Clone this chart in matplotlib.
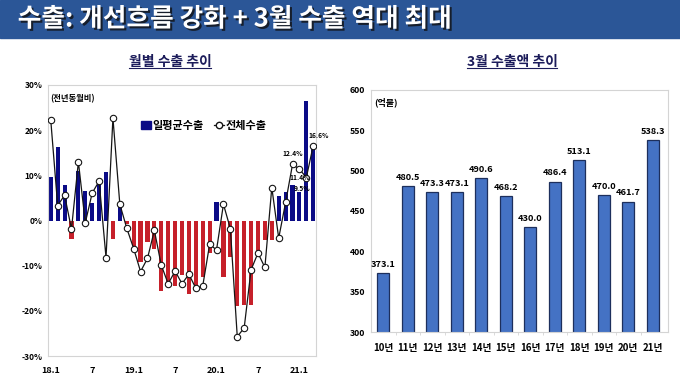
import matplotlib
matplotlib.use('Agg')
import matplotlib.pyplot as plt
import matplotlib.patheffects as pe
from matplotlib.patches import Rectangle, Patch
from matplotlib.lines import Line2D
import numpy as np

plt.rcParams['font.family'] = ['Noto Sans CJK KR', 'DejaVu Sans']
plt.rcParams['font.weight'] = 'bold'

# monthly export growth, 2018.1 ~ 2021.3 (전년동월비, %)
months = ['18.1', '', '', '', '', '', '7', '', '', '', '', '',
          '19.1', '', '', '', '', '', '7', '', '', '', '', '',
          '20.1', '', '', '', '', '', '7', '', '', '', '', '',
          '21.1', '', '']
daily_avg = [9.6, 16.3, 7.8, -4.1, 11.0, 6.6, 3.9, 8.0, 10.7, -4.1, 3.0, -0.8,
             -5.6, -9.1, -4.8, -6.3, -15.7, -13.9, -14.6, -12.0, -16.2, -14.2, -12.4, -7.3,
             4.1, -12.6, -8.0, -19.0, -18.7, -18.8, -6.7, -4.4, -4.4, 5.4, 6.3, 7.9,
             6.4, 26.5, 16.0]
total = [22.2, 3.3, 5.6, -1.9, 13.0, -0.5, 6.1, 8.7, -8.2, 22.7, 3.6, -1.7,
         -6.2, -11.3, -8.4, -2.2, -9.9, -14.0, -11.2, -14.0, -11.9, -15.0, -14.5, -5.3,
         -6.5, 3.6, -1.8, -25.7, -23.8, -10.9, -7.2, -10.4, 7.3, -3.9, 4.0, 12.4,
         11.4, 9.5, 16.6]
labelled = {35: (0, 8), 36: (0, -6), 37: (-3, -8), 38: (4, 7)}

# March exports by year (억불)
years = ['10년', '11년', '12년', '13년', '14년', '15년', '16년', '17년', '18년', '19년', '20년', '21년']
march_exports = [373.1, 480.5, 473.3, 473.1, 490.6, 468.2, 430.0, 486.4, 513.1, 470.0, 461.7, 538.3]

NAVY = '#0b0b86'
RED = '#c6202a'
GRID = '#d4d4d4'

fig = plt.figure(figsize=(6.8, 3.81), dpi=100)

# title banner
fig.patches.append(Rectangle((0, 1 - 38 / 381), 1, 38 / 381, transform=fig.transFigure,
                             color='#2b5697', zorder=0))
fig.text(0.026, 1 - 19 / 381, '수출: 개선흐름 강화 + 3월 수출 역대 최대', color='white',
         fontsize=18.5, fontweight='bold', va='center', ha='left',
         path_effects=[pe.withSimplePatchShadow(offset=(1.5, -1.5), shadow_rgbFace='#111', alpha=0.8)])

# ---------- left: monthly ----------
ax1 = fig.add_axes([48 / 680, 1 - 356 / 381, 268 / 680, 271 / 381])
x = np.arange(len(total))
colors = [NAVY if v >= 0 else RED for v in daily_avg]
ax1.bar(x, daily_avg, width=0.6, color=colors, zorder=2)
ax1.plot(x, total, color='#151515', lw=0.9, marker='o', markersize=4.6,
         markerfacecolor='white', markeredgecolor='#151515', markeredgewidth=0.8, zorder=3)
for i, off in labelled.items():
    ax1.annotate(f'{total[i]:.1f}%', (x[i], total[i]), xytext=off, textcoords='offset points',
                 ha='center', va='center', fontsize=4.8, zorder=4)
ax1.set_xlim(-0.4, 38.4)
ax1.set_ylim(-30, 30)
ax1.set_yticks(np.arange(-30, 31, 10))
ax1.set_yticklabels([f'{v}%' for v in range(-30, 31, 10)], fontsize=6)
ax1.set_xticks(x)
ax1.set_xticklabels(months, fontsize=6.5)
ax1.tick_params(length=0, pad=4)
ax1.tick_params(axis='x', pad=7)
for s in ax1.spines.values():
    s.set_color(GRID)
    s.set_linewidth(0.8)
ax1.text(0.008, 0.95, '(전년동월비)', transform=ax1.transAxes, fontsize=6, ha='left', va='center')
handles = [Patch(color=NAVY),
           Line2D([], [], color='#151515', lw=0.9, marker='o', markersize=4.6,
                  markerfacecolor='white', markeredgecolor='#151515')]
ax1.legend(handles, ['일평균수출', '전체수출'], loc='center left', bbox_to_anchor=(0.33, 0.852),
           frameon=False, ncol=2, fontsize=8, handlelength=0.9, handletextpad=0.1,
           columnspacing=1.0, borderaxespad=0)

# ---------- right: March ----------
ax2 = fig.add_axes([371 / 680, 1 - 332 / 381, 297 / 680, 242 / 381])
xr = np.arange(len(years))
ax2.bar(xr, march_exports, width=0.48, color='#4472c4', edgecolor='#1d2f5c', linewidth=0.9, zorder=2)
for xi, v in zip(xr, march_exports):
    ax2.annotate(f'{v:.1f}', (xi, v), xytext=(0, 3), textcoords='offset points',
                 ha='center', va='bottom', fontsize=6.6)
ax2.set_xlim(-0.5, 11.62)
ax2.set_ylim(300, 600)
ax2.set_yticks(np.arange(300, 601, 50))
ax2.set_yticklabels([str(v) for v in range(300, 601, 50)], fontsize=6.3)
ax2.set_xticks(xr)
ax2.set_xticklabels(years, fontsize=7)
ax2.set_xticks(xr[:-1] + 0.5, minor=True)
ax2.tick_params(length=0, pad=4)
ax2.tick_params(axis='x', pad=8)
ax2.tick_params(axis='x', which='minor', length=2.5, color=GRID)
for s in ax2.spines.values():
    s.set_color(GRID)
    s.set_linewidth(0.8)
ax2.text(0.01, 0.95, '(억불)', transform=ax2.transAxes, fontsize=6.5, ha='left', va='center')

# section headings with underline
fig.canvas.draw()
r = fig.canvas.get_renderer()
for cx, txt in [(170, '월별 수출 추이'), (512, '3월 수출액 추이')]:
    t = fig.text(cx / 680, 1 - 62 / 381, txt, ha='center', va='center', fontsize=10,
                 color='#1c1c5a')
    bb = t.get_window_extent(renderer=r).transformed(fig.transFigure.inverted())
    fig.add_artist(Line2D([bb.x0, bb.x1], [bb.y0 + 0.002, bb.y0 + 0.002], transform=fig.transFigure,
                          color='#1c1c5a', lw=0.8))

fig.savefig('out.png', dpi=100)
